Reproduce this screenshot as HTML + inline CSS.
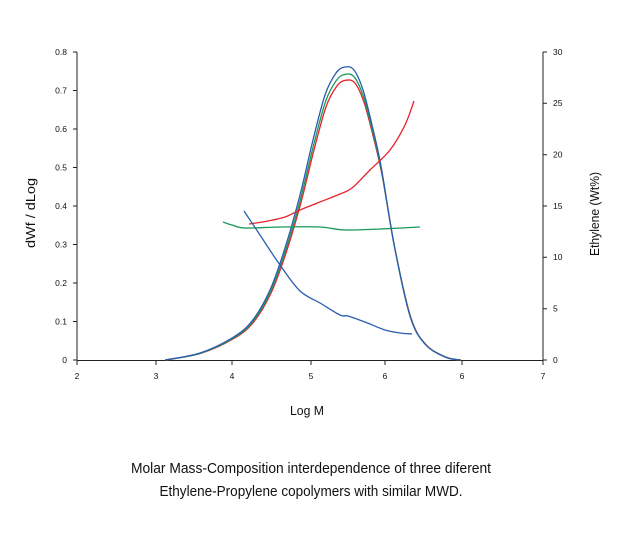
<!DOCTYPE html>
<html><head><meta charset="utf-8"><style>
html,body{margin:0;padding:0;background:#fff;width:621px;height:533px;overflow:hidden}
text{font-family:"Liberation Sans",sans-serif;fill:#111}
</style></head><body>
<svg id="s" width="621" height="533" viewBox="0 0 621 533" xmlns="http://www.w3.org/2000/svg">
<g stroke="#222" stroke-width="1" fill="none">
<line x1="77" y1="52" x2="77" y2="361"/>
<line x1="543" y1="52" x2="543" y2="361"/>
<line x1="77" y1="360.5" x2="543" y2="360.5"/>
<path d="M73 52H77M73 90.5H77M73 129H77M73 167.5H77M73 206H77M73 244.5H77M73 283H77M73 321.5H77M73 360H77"/>
<path d="M543 52H547M543 103.3H547M543 154.7H547M543 206H547M543 257.3H547M543 308.7H547M543 360H547"/>
<path d="M77 360V365M156 360V365M232 360V365M311 360V365M385 360V365M462 360V365M543 360V365"/>
</g>
<g font-size="8.5" text-anchor="end">
<text x="67" y="55">0.8</text><text x="67" y="93.5">0.7</text><text x="67" y="132">0.6</text><text x="67" y="170.5">0.5</text><text x="67" y="209">0.4</text><text x="67" y="247.5">0.3</text><text x="67" y="286">0.2</text><text x="67" y="324.5">0.1</text><text x="67" y="363">0</text>
</g>
<g font-size="8.5" text-anchor="start">
<text x="553" y="55">30</text><text x="553" y="106">25</text><text x="553" y="157.5">20</text><text x="553" y="209">15</text><text x="553" y="260">10</text><text x="553" y="311.5">5</text><text x="553" y="363">0</text>
</g>
<g font-size="8.5" text-anchor="middle">
<text x="77" y="379">2</text><text x="156" y="379">3</text><text x="232" y="379">4</text><text x="311" y="379">5</text><text x="385" y="379">6</text><text x="462" y="379">6</text><text x="543" y="379">7</text>
</g>
<text transform="translate(35,213) rotate(-90)" font-size="12.5" text-anchor="middle" textLength="70" lengthAdjust="spacingAndGlyphs">dWf / dLog</text>
<text transform="translate(599,214) rotate(-90)" font-size="12.5" text-anchor="middle" textLength="84" lengthAdjust="spacingAndGlyphs">Ethylene (Wt%)</text>
<text x="307" y="415" font-size="12.5" text-anchor="middle" textLength="34" lengthAdjust="spacingAndGlyphs">Log M</text>
<text x="311" y="473" font-size="14.5" text-anchor="middle" textLength="360" lengthAdjust="spacingAndGlyphs">Molar Mass-Composition interdependence of three diferent</text>
<text x="311" y="496" font-size="14.5" text-anchor="middle" textLength="303" lengthAdjust="spacingAndGlyphs">Ethylene-Propylene copolymers with similar MWD.</text>
<g id="curves" fill="none" stroke-width="1.3"></g>
</svg>
<script>
function cr(p){var d="M"+p[0][0]+" "+p[0][1];for(var i=0;i<p.length-1;i++){var a=p[i-1]||p[i],b=p[i],c=p[i+1],e=p[i+2]||c;
d+=" C"+(b[0]+(c[0]-a[0])/6).toFixed(1)+" "+(b[1]+(c[1]-a[1])/6).toFixed(1)+" "+(c[0]-(e[0]-b[0])/6).toFixed(1)+" "+(c[1]-(e[1]-b[1])/6).toFixed(1)+" "+c[0]+" "+c[1];}return d;}
var base=[[165,360],[200,353],[232,338],[252,321],[270,290],[285,248],[300,195],[313,140],[325,95],[336,73],[345,67],[354,70],[363,90],[372,125],[381,166],[394,244],[410,316],[425,344],[445,357],[460,360]];
function sc(f,dx){return base.map(function(q){return [q[0]+dx,+(360-(360-q[1])*f).toFixed(1)]});}
var g=document.getElementById("curves"),ns="http://www.w3.org/2000/svg";
function add(p,c){var e=document.createElementNS(ns,"path");e.setAttribute("d",cr(p));e.setAttribute("stroke",c);g.appendChild(e);}
add(sc(0.955,1),"#e8202a");
add(sc(0.975,0.5),"#1a9a5a");
add(base,"#2a5db0");
add([[249,224],[268,221],[285,217],[300,210],[320,202],[340,194],[352,188],[370,170],[390,150],[405,125],[414,101]],"#e8202a");
add([[223,222],[232,225],[245,228],[280,227],[320,227],[345,230],[380,229],[420,227]],"#1a9a5a");
add([[244,211],[260,235],[280,265],[300,291],[320,303],[340,315],[348,316],[365,322],[385,330],[400,333],[412,334]],"#2a5db0");
</script>
</body></html>
